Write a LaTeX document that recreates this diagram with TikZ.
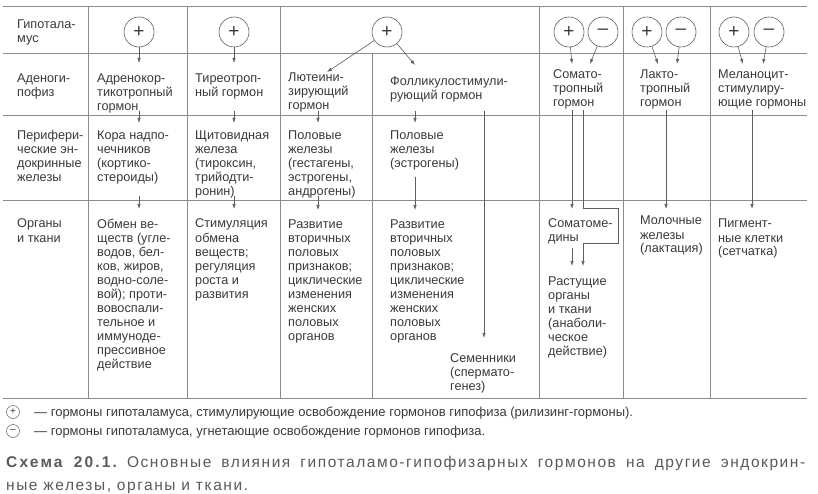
\documentclass[tikz,border=0pt]{standalone}
\usepackage{fontspec}
\setmainfont{Liberation Sans}
\newfontfamily\capfont[LetterSpace=10]{Liberation Sans}
\usetikzlibrary{arrows.meta}
\definecolor{txt}{HTML}{3A3A3A}
\definecolor{ln}{HTML}{8C8C8C}
\definecolor{ar}{HTML}{5E5E5E}
\definecolor{captxt}{HTML}{5A5A5A}
\newcommand{\celltext}[1]{\begin{tabular}{@{}l@{}}#1\end{tabular}}
\begin{document}
\begin{tikzpicture}[x=1pt,y=-1pt,
  every node/.style={inner sep=0pt, text=txt},
  cell/.style={anchor=north west, font=\fontsize{12.7}{14}\selectfont},
  hcirc/.style={circle, draw=ar, line width=0.6pt, minimum size=30pt, font=\fontsize{19}{19}\selectfont},
  fcirc/.style={circle, draw=ar, line width=0.5pt, minimum size=13pt, font=\fontsize{10}{10}\selectfont},
  gridline/.style={draw=ln, line width=0.7pt},
  arr/.style={draw=ar, line width=0.6pt, -{Latex[length=5pt,width=3.4pt]}},
  foot/.style={anchor=base west, font=\fontsize{13}{15}\selectfont, text=txt},
  capt/.style={anchor=base west, font=\capfont\fontsize{15.5}{19}\selectfont\frenchspacing, text=captxt}
]
\useasboundingbox (0,0) rectangle (818,494);
\fill[white] (0,0) rectangle (818,494);
% grid
\foreach \yy in {6,53,115,200,398} \draw[gridline] (3,\yy) -- (807,\yy);
\foreach \xx in {88,187,280,539,623,710} \draw[gridline] (\xx,6) -- (\xx,398);
\draw[gridline] (372,53) -- (372,398);
% row 1 label
\node[cell] (l1) at (17,19) {\celltext{Гипотала-\\мус}};
% circles
\node[hcirc] (c2) at (139,32) {+};
\node[hcirc] (c3) at (234,32) {+};
\node[hcirc] (cG) at (387,32) {+};
\node[hcirc] (sP) at (569,32) {+};
\node[hcirc] (sM) at (603,32) {–};
\node[hcirc] (pP) at (647,32) {+};
\node[hcirc] (pM) at (681,32) {–};
\node[hcirc] (mP) at (734,32) {+};
\node[hcirc] (mM) at (769,32) {–};
% row 2
\node[cell] (l2) at (17,73) {\celltext{Аденоги-\\пофиз}};
\node[cell] (h2) at (97,73) {\celltext{Адренокор-\\тикотропный\\гормон}};
\node[cell] (h3) at (195,73) {\celltext{Тиреотроп-\\ный гормон}};
\node[cell] (hL) at (288,72) {\celltext{Лютеини-\\зирующий\\гормон}};
\node[cell] (hF) at (390,76) {\celltext{Фолликулостимули-\\рующий гормон}};
\node[cell] (hS) at (553,69) {\celltext{Сомато-\\тропный\\гормон}};
\node[cell] (hP) at (640,69) {\celltext{Лакто-\\тропный\\гормон}};
\node[cell] (hM) at (718,69) {\celltext{Меланоцит-\\стимулиру-\\ющие гормоны}};
% row 3
\node[cell] (l3) at (17,130) {\celltext{Перифери-\\ческие эн-\\докринные\\железы}};
\node[cell] (g2) at (97,130) {\celltext{Кора надпо-\\чечников\\(кортико-\\стероиды)}};
\node[cell] (g3) at (195,130) {\celltext{Щитовидная\\железа\\(тироксин,\\трийодти-\\ронин)}};
\node[cell] (gL) at (288,130) {\celltext{Половые\\железы\\(гестагены,\\эстрогены,\\андрогены)}};
\node[cell] (gF) at (390,130) {\celltext{Половые\\железы\\(эстрогены)}};
% row 4
\node[cell] (l4) at (17,218) {\celltext{Органы\\и ткани}};
\node[cell] (o2) at (97,218) {\celltext{Обмен ве-\\ществ (угле-\\водов, бел-\\ков, жиров,\\водно-соле-\\вой); проти-\\вовоспали-\\тельное и\\иммуноде-\\прессивное\\действие}};
\node[cell] (o3) at (195,218) {\celltext{Стимуляция\\обмена\\веществ;\\регуляция\\роста и\\развития}};
\node[cell] (oL) at (288,218) {\celltext{Развитие\\вторичных\\половых\\признаков;\\циклические\\изменения\\женских\\половых\\органов}};
\node[cell] (oF) at (390,218) {\celltext{Развитие\\вторичных\\половых\\признаков;\\циклические\\изменения\\женских\\половых\\органов}};
\node[cell] (oT) at (450,352) {\celltext{Семенники\\(спермато-\\генез)}};
\node[cell] (oS) at (548,217) {\celltext{Соматоме-\\дины}};
\node[cell] (oR) at (548,275) {\celltext{Растущие\\органы\\и ткани\\(анаболи-\\ческое\\действие)}};
\node[cell] (oP) at (640,215) {\celltext{Молочные\\железы\\(лактация)}};
\node[cell] (oM) at (718,218) {\celltext{Пигмент-\\ные клетки\\(сетчатка)}};
% arrow end points
\coordinate (t2) at (139,63);
\coordinate (t3) at (234,63);
\coordinate (tL) at (327,72);
\coordinate (tF) at (415,65);
\coordinate (tsP) at (572,64);
\coordinate (tsM) at (590,64);
\coordinate (tpP) at (658,64);
\coordinate (tpM) at (677,64);
\coordinate (tmP) at (743,64);
\coordinate (tmM) at (763,64);
% hypothalamus -> adenohypophysis
\draw[arr] (c2) -- (t2);
\draw[arr] (c3) -- (t3);
\draw[arr] (cG) -- (tL);
\draw[arr] (cG) -- (tF);
\draw[arr] (sP) -- (tsP);
\draw[arr] (sM) -- (tsM);
\draw[arr] (pP) -- (tpP);
\draw[arr] (pM) -- (tpM);
\draw[arr] (mP) -- (tmP);
\draw[arr] (mM) -- (tmM);
% adenohypophysis -> glands
\coordinate (a2s) at (139,111); \coordinate (a2e) at (139,123);
\coordinate (a3s) at (234,111); \coordinate (a3e) at (234,123);
\coordinate (aLs) at (318,111); \coordinate (aLe) at (318,123);
\coordinate (aFs) at (415,111); \coordinate (aFe) at (415,123);
\coordinate (aTs) at (484,111); \coordinate (aTe) at (484,338);
\coordinate (aSs) at (572,110); \coordinate (aSe) at (572,209);
\coordinate (bSs) at (583,110); \coordinate (bK1) at (618,208);
\coordinate (bK2) at (583,243); \coordinate (bSe) at (583,266);
\coordinate (cSs) at (572,248); \coordinate (cSe) at (572,266);
\coordinate (aPs) at (666,110); \coordinate (aPe) at (666,209);
\coordinate (aMs) at (752,110); \coordinate (aMe) at (752,209);
\draw[arr] (a2s) -- (a2e);
\draw[arr] (a3s) -- (a3e);
\draw[arr] (aLs) -- (aLe);
\draw[arr] (aFs) -- (aFe);
\draw[arr] (aTs) -- (aTe);
\draw[arr] (aSs) -- (aSe);
\draw[arr] (bSs) |- (bK1) |- (bK2) -- (bSe);
\draw[arr] (cSs) -- (cSe);
\draw[arr] (aPs) -- (aPe);
\draw[arr] (aMs) -- (aMe);
% glands -> organs
\coordinate (d2s) at (139,196); \coordinate (d2e) at (139,209);
\coordinate (d3s) at (234,196); \coordinate (d3e) at (234,209);
\coordinate (dLs) at (318,196); \coordinate (dLe) at (318,210);
\coordinate (dFs) at (415,177); \coordinate (dFe) at (415,210);
\draw[arr] (d2s) -- (d2e);
\draw[arr] (d3s) -- (d3e);
\draw[arr] (dLs) -- (dLe);
\draw[arr] (dFs) -- (dFe);
% footnotes
\node[fcirc] (f1) at (13,412) {+};
\node[foot] (f1t) at (34,416) {— гормоны гипоталамуса, стимулирующие освобождение гормонов гипофиза (рилизинг-гормоны).};
\node[fcirc] (f2) at (13,431) {–};
\node[foot] (f2t) at (34,435) {— гормоны гипоталамуса, угнетающие освобождение гормонов гипофиза.};
% caption
\node[capt] (cap1) at (6,467) {\hbox to 799pt{{\bfseries\addfontfeature{LetterSpace=14}Схема 20.1.} Основные влияния гипоталамо-гипофизарных гормонов на другие эндокрин-}};
\node[capt] (cap2) at (6,490) {ные железы, органы и ткани.};
\end{tikzpicture}
\end{document}
